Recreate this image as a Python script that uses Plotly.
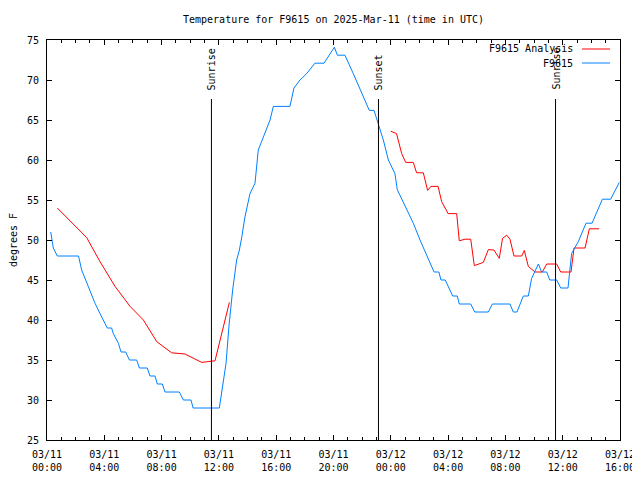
import plotly.graph_objects as go

# ---------------- data ----------------
title_text = "Temperature for F9615 on 2025-Mar-11 (time in UTC)"
y_label = "degrees F"

# hours since 2025-03-11 00:00 UTC
obs_hours = [0.26, 0.33, 0.44, 0.72, 2.2, 2.42, 2.65, 3.0, 3.35, 3.7, 4.05, 4.21, 4.51,
             4.63, 4.98, 5.17, 5.5, 5.75, 6.26, 6.45, 7.0, 7.19, 7.54, 7.7, 8.05, 8.24,
             9.24, 9.52, 10.05, 10.2, 12.03, 12.26, 12.5, 12.7, 12.96, 13.24, 13.43,
             13.6, 13.82, 14.17, 14.52, 14.75, 15.33, 15.57, 15.8, 16.96, 17.24, 17.66,
             18.13, 18.7, 19.34, 19.64, 20.06, 20.27, 20.8, 21.38, 21.97, 22.5, 22.83,
             23.13, 23.48, 23.83, 24.29, 24.45, 24.99, 25.57, 26.04, 26.5, 27.02, 27.36,
             27.5, 27.8, 28.32, 28.64, 28.78, 29.58, 29.86, 30.81, 31.09, 32.32, 32.55,
             32.81, 33.25, 33.6, 33.83, 34.3, 34.53, 34.88, 35.1, 35.58, 35.86, 36.37,
             36.62, 37.09, 37.63, 38.05, 38.77, 39.35, 39.95]
obs_temps = [51, 50, 49, 48, 48, 46.25, 45.2, 43.75, 42.1, 40.8, 39.6, 39, 39,
             38.3, 37.1, 36, 36, 35, 35, 34, 34, 33, 33, 32, 32, 31,
             31, 30, 30, 29, 29, 31.5, 34.6, 39.2, 43.75, 47.5, 48.75,
             50.4, 52.9, 55.8, 57.1, 61.25, 63.75, 65, 66.7, 66.7, 69.0, 70,
             70.8, 72.1, 72.1, 73.0, 74.1, 73.1, 73.1, 70.8, 68.3, 66.2, 66.2,
             64.4, 62.5, 60, 58.3, 56.3, 54.2, 52.1, 50, 48.1, 46, 46,
             45, 45, 43, 43, 42, 42, 41, 41, 42, 42, 41,
             41, 43, 43, 45.2, 47, 46, 46, 45, 45, 44, 44,
             48.3, 49.8, 52.1, 52.1, 55.1, 55.1, 57.2]

ana_hours = [0.72, 2.19, 2.77, 3.7, 4.75, 5.8, 6.73, 7.66, 8.7, 9.63, 10.8, 11.73, 12.2, 12.73,
             None,
             24.0, 24.4, 24.76, 25.04, 25.57, 25.8, 26.27, 26.57, 26.8, 27.3, 27.55, 28.0,
             28.6, 28.78, 29.18, 29.58, 29.83, 30.46, 30.81, 31.2, 31.57, 31.8, 32.09,
             32.32, 32.6, 33.14, 33.32, 33.6, 34.07, 34.58, 34.88, 35.58, 35.86, 36.58,
             36.79, 37.56, 37.86, 38.55]
ana_temps = [54.0, 51.25, 50.3, 47.3, 44.2, 41.7, 40, 37.3, 35.9, 35.75, 34.7, 34.9, 38.3, 42.2,
             None,
             63.6, 63.3, 60.8, 59.7, 59.7, 58.4, 58.4, 56.2, 56.7, 56.7, 54.8, 53.3,
             53.3, 49.9, 50.1, 50.1, 46.8, 47.2, 48.8, 48.75, 47.7, 50.2, 50.6,
             50.1, 48, 48, 48.7, 46.7, 46.0, 46.0, 47, 47, 46, 46,
             49, 49, 51.4, 51.4]

series_names = ["F9615 Analysis", "F9615"]
series_colors = ["#ff0000", "#0080ff"]

event_names = ["Sunrise", "Sunset", "Sunrise"]
event_hours = [11.48, 23.14, 35.5]

x_tick_vals = [0, 4, 8, 12, 16, 20, 24, 28, 32, 36, 40]
x_tick_text = ["03/11<br>00:00", "03/11<br>04:00", "03/11<br>08:00", "03/11<br>12:00",
               "03/11<br>16:00", "03/11<br>20:00", "03/12<br>00:00", "03/12<br>04:00",
               "03/12<br>08:00", "03/12<br>12:00", "03/12<br>16:00"]
y_tick_vals = [25, 30, 35, 40, 45, 50, 55, 60, 65, 70, 75]

# ---------------- figure ----------------
FONT = "DejaVu Sans Mono"
W, H = 632, 472          # page body has an 8px default margin
ML, MR, MT, MB = 39, 20, 32, 40
PW, PH = W - ML - MR, H - MT - MB

fig = go.Figure()
fig.add_trace(go.Scatter(x=ana_hours, y=ana_temps, mode="lines", name=series_names[0],
                         line=dict(color=series_colors[0], width=1), connectgaps=False,
                         showlegend=False))
fig.add_trace(go.Scatter(x=obs_hours, y=obs_temps, mode="lines", name=series_names[1],
                         line=dict(color=series_colors[1], width=1), showlegend=False))

for name, h in zip(event_names, event_hours):
    fig.add_shape(type="line", x0=h, x1=h, xref="x", y0=0, y1=0.8525, yref="y domain",
                  line=dict(color="black", width=1))
    fig.add_annotation(x=h, xref="x", y=0.87, yref="y domain", text=name, textangle=-90,
                       showarrow=False, xanchor="center", yanchor="bottom",
                       font=dict(family=FONT, size=10, color="black"))

# manual gnuplot-style legend (text right, sample line on the right)
leg_py = [49, 63]
for name, col, py in zip(series_names, series_colors, leg_py):
    yy = (440 - py) / PH
    fig.add_annotation(x=(575 - 47) / PW, y=yy, xref="paper", yref="paper", text=name,
                       showarrow=False, xanchor="right", yanchor="middle",
                       font=dict(family=FONT, size=10, color="black"))
    fig.add_shape(type="line", x0=(582 - 47) / PW, x1=(610 - 47) / PW, y0=yy, y1=yy,
                  xref="paper", yref="paper", line=dict(color=col, width=1))

fig.update_layout(
    width=W, height=H,
    margin=dict(l=ML, r=MR, t=MT, b=MB, autoexpand=False),
    paper_bgcolor="white", plot_bgcolor="white",
    font=dict(family=FONT, size=10, color="black"),
    title=dict(text=title_text, x=0.5, xref="paper", y=1 - 11 / H, yref="container",
               xanchor="center", yanchor="middle", font=dict(family=FONT, size=10)),
    showlegend=False,
)
fig.update_xaxes(range=[0, 40], tickmode="array", tickvals=x_tick_vals, ticktext=x_tick_text,
                 ticks="inside", ticklen=5, tickcolor="black", showline=True, linecolor="black",
                 linewidth=1, mirror="ticks", showgrid=False, zeroline=False,
                 ticklabelstandoff=5,
                 minor=dict(ticks="inside", dtick=1, ticklen=3, tickcolor="black", showgrid=False),
                 tickfont=dict(family=FONT, size=10))
fig.update_yaxes(range=[25, 75], tickmode="array", tickvals=y_tick_vals,
                 ticks="inside", ticklen=5, tickcolor="black", showline=True, linecolor="black",
                 linewidth=1, mirror="ticks", showgrid=False, zeroline=False,
                 ticklabelstandoff=5,
                 title=dict(text=y_label, standoff=11, font=dict(family=FONT, size=10)),
                 tickfont=dict(family=FONT, size=10))

fig.write_html("out.html")
